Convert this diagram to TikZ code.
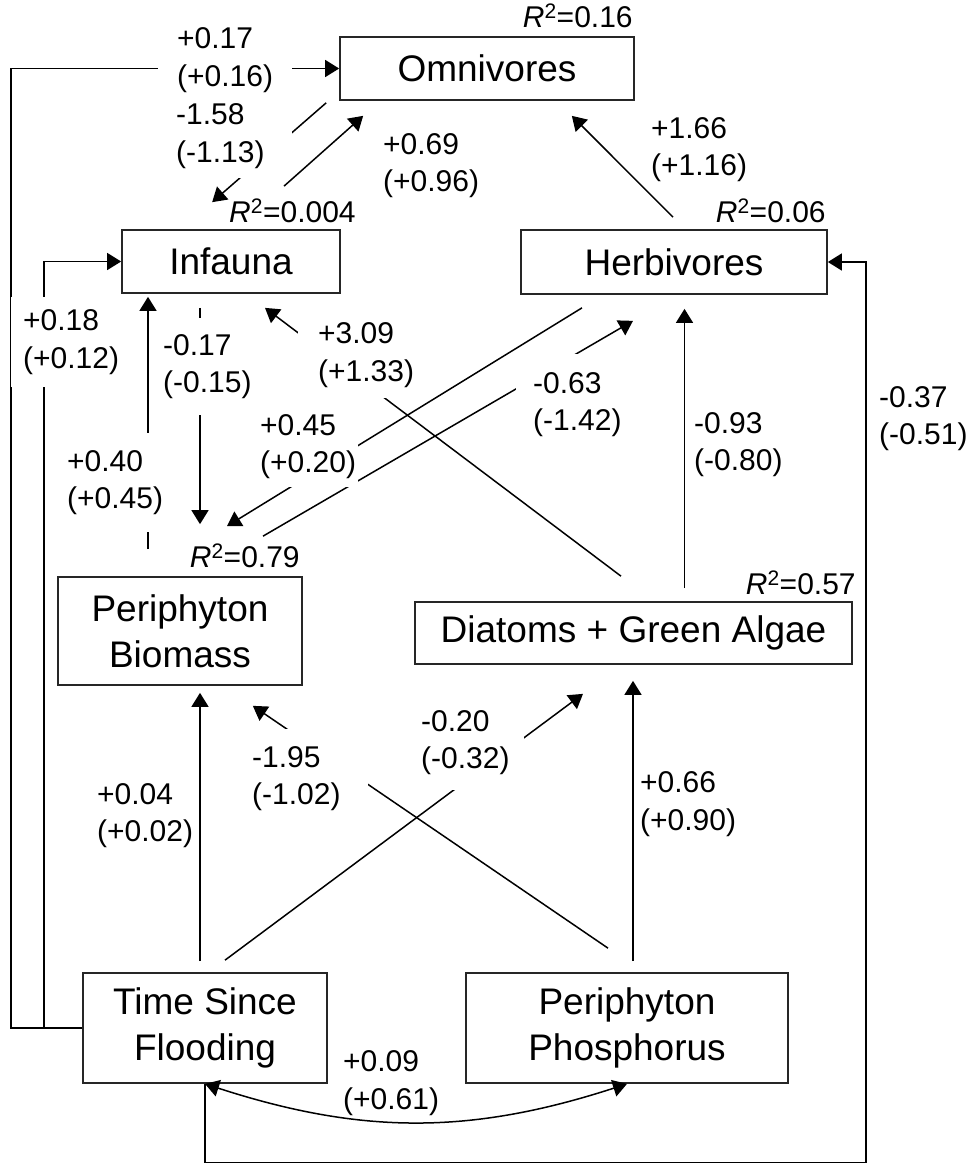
\documentclass[tikz,border=0pt]{standalone}
\usepackage{fontspec}
\setmainfont{Liberation Sans}
\usetikzlibrary{arrows.meta,calc}
\begin{document}
\begin{tikzpicture}[x=1pt,y=-1pt,
  >={Triangle[length=14pt,width=17pt]},
  box/.style={draw=black!85, line width=1.7pt, fill=white, inner sep=0pt,
    align=center, font=\fontsize{37}{46}\selectfont},
  lab/.style={fill=white, anchor=west, align=left,
    font=\fontsize{30}{37.5}\selectfont},
  rsq/.style={anchor=base east, inner sep=0pt, font=\fontsize{30}{36}\selectfont},
  conn/.style={line width=1.5pt, ->},
  link/.style={line width=1.5pt, <->}]

\useasboundingbox (0,0) rectangle (974,1163);

% variables of the path model
\node[box, minimum width=294pt, minimum height=63pt]  (omn)  at (487,68.5)   {Omnivores};
\node[box, minimum width=218pt, minimum height=63pt]  (inf)  at (231,261.5)  {Infauna};
\node[box, minimum width=306pt, minimum height=64pt]  (herb) at (674,262)    {Herbivores};
\node[box, minimum width=244pt, minimum height=108pt] (pb)   at (180,631)    {Periphyton\\Biomass};
\node[box, minimum width=437pt, minimum height=62pt]  (dga)  at (633.5,633)  {Diatoms + Green Algae};
\node[box, minimum width=244pt, minimum height=110pt] (tsf)  at (205,1028)   {Time Since\\Flooding};
\node[box, minimum width=322pt, minimum height=110pt] (pp)   at (627,1028)   {Periphyton\\Phosphorus};

% paths
\draw[conn] (tsf.west) -- ++(-71,0) |- (omn.west);
\draw[conn] (tsf.west) -- ++(-38,0) |- (inf.west);
\draw[conn] ($(omn.south west)+(-13,2)$) -- ($(inf.north west)+(91,-27)$);
\draw[conn] ($(inf.north)+(53,-43)$) -- ($(omn.south west)+(24,15)$);
\draw[conn] ($(herb.north)+(-1,-12)$) -- ($(omn.south east)+(-63,15)$);
\draw[conn] ($(herb.south)+(-92,13)$) -- ($(pb.north)+(47,-50)$);
\draw[conn] ($(pb.north)+(83,-40)$) -- ($(herb.south)+(-41,26)$);
\draw[conn] ($(dga.north)+(-12.5,-25)$) -- ($(inf.south)+(34,14)$);
\draw[conn] ($(dga.north)+(51,-13)$) -- ($(herb.south)+(10.5,14)$);
\draw[conn] ($(inf.south)+(-31,14)$) -- ($(pb.north)+(20,-52)$);
\draw[conn] ($(pb.north)+(-32,-27)$) -- ($(inf.south)+(-83,3)$);
\draw[conn] ($(tsf.north)+(-5,-11)$) -- ($(pb.south)+(20,7)$);
\draw[conn] ($(tsf.north)+(20,-12)$) -- ($(dga.south)+(-50.5,29)$);
\draw[conn] ($(pp.north)+(-19,-24)$) -- ($(pb.south east)+(-50,20)$);
\draw[conn] ($(pp.north)+(6,-11)$) -- ($(dga.south)+(-0.5,16)$);
\draw[link] (tsf.south) to[bend right=18] (pp.south);
\draw[conn] (tsf.south) -- ++(0,79) -- ++(661,0) |- (herb.east);

% path coefficients
\node[lab, inner xsep=19pt, inner ysep=4pt]  (c1)  at (158,60)    {+0.17\\(+0.16)};
\node[lab, inner xsep=27pt, inner ysep=10pt] (c2)  at (149,136)   {-1.58\\(-1.13)};
\node[lab, inner sep=3pt]                    (c3)  at (380,165.5) {+0.69\\(+0.96)};
\node[lab, inner sep=3pt]                    (c4)  at (648,149.5) {+1.66\\(+1.16)};
\node[lab, inner xsep=12pt, inner ysep=13pt] (c5)  at (11,342)    {+0.18\\(+0.12)};
\node[lab, inner xsep=3pt, inner ysep=16pt]  (c6)  at (160,366.5) {-0.17\\(-0.15)};
\node[lab, inner xsep=20pt, inner ysep=11pt] (c7)  at (298,355)   {+3.09\\(+1.33)};
\node[lab, inner xsep=2pt, inner ysep=8pt]   (c8)  at (258,446.5) {+0.45\\(+0.20)};
\node[lab, inner xsep=17pt, inner ysep=18pt] (c9)  at (516,404.5) {-0.63\\(-1.42)};
\node[lab, inner xsep=3pt, inner ysep=17pt]  (c10) at (64,482.5)  {+0.40\\(+0.45)};
\node[lab, inner sep=3pt]                    (c11) at (691,444.5) {-0.93\\(-0.80)};
\node[lab, inner sep=3pt]                    (c12) at (876,418.5) {-0.37\\(-0.51)};
\node[lab, inner xsep=27pt, inner ysep=17pt] (c13) at (225,778.5) {-1.95\\(-1.02)};
\node[lab, inner xsep=14pt, inner ysep=15pt] (c14) at (407,742.5) {-0.20\\(-0.32)};
\node[lab, inner sep=3pt]                    (c15) at (94,815.5)  {+0.04\\(+0.02)};
\node[lab, inner sep=3pt]                    (c16) at (637,804)   {+0.66\\(+0.90)};
\node[lab, inner sep=2pt, fill=none]         (c17) at (341,1083)  {+0.09\\(+0.61)};

% explained variance
\node[rsq] (r1) at ($(omn.north east)+(-2,-9)$)  {\textit{R}\textsuperscript{2}=0.16};
\node[rsq] (r2) at ($(inf.north east)+(15,-7)$)  {\textit{R}\textsuperscript{2}=0.004};
\node[rsq] (r3) at ($(herb.north east)+(-2,-7)$) {\textit{R}\textsuperscript{2}=0.06};
\node[rsq] (r4) at ($(pb.north east)+(-3,-9)$)   {\textit{R}\textsuperscript{2}=0.79};
\node[rsq] (r5) at ($(dga.north east)+(3,-7)$)   {\textit{R}\textsuperscript{2}=0.57};
\end{tikzpicture}
\end{document}
